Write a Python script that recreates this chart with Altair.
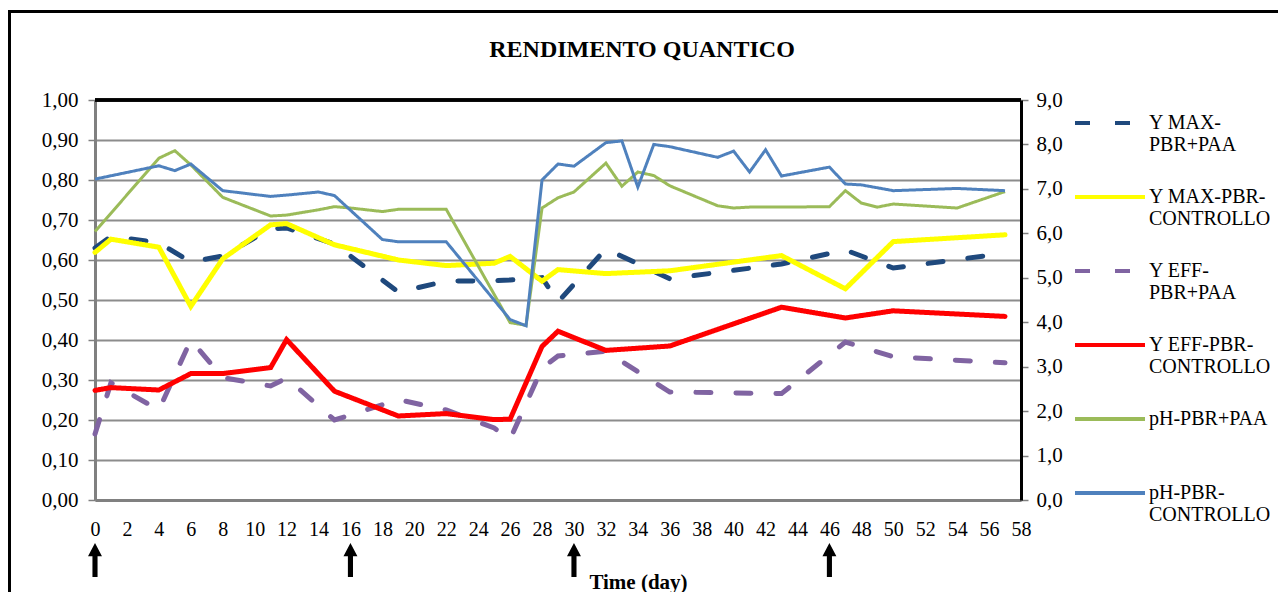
import altair as alt
import pandas as pd

SERIES = ["Y MAX-PBR+PAA", "Y MAX-PBR-CONTROLLO", "Y EFF-PBR+PAA",
          "Y EFF-PBR-CONTROLLO", "pH-PBR+PAA", "pH-PBR-CONTROLLO"]
COLORS = ["#1F497D", "#FFFF00", "#8064A2", "#FF0000", "#9BBB59", "#4F81BD"]
DASHES = [[15, 25], [1, 0], [15, 25], [1, 0], [1, 0], [1, 0]]

# Quantum yield series (left axis)
y_days = [0, 1, 4, 6, 8, 11, 12, 15, 19, 22, 25, 26, 28, 29, 32, 36, 43, 47, 50, 57]
ymax_paa = [0.630, 0.659, 0.643, 0.595, 0.610, 0.678, 0.680, 0.640, 0.520, 0.547,
            0.548, 0.550, 0.556, 0.495, 0.628, 0.553, 0.590, 0.625, 0.580, 0.617]
ymax_ctrl = [0.619, 0.652, 0.632, 0.484, 0.603, 0.688, 0.691, 0.638, 0.600, 0.586,
             0.592, 0.609, 0.547, 0.576, 0.566, 0.573, 0.611, 0.528, 0.646, 0.663]
yeff_paa = [0.165, 0.293, 0.225, 0.400, 0.306, 0.285, 0.305, 0.200, 0.251, 0.225,
            0.180, 0.152, 0.330, 0.360, 0.372, 0.270, 0.266, 0.395, 0.358, 0.343]
yeff_ctrl = [0.274, 0.281, 0.275, 0.316, 0.316, 0.331, 0.401, 0.272, 0.210, 0.216,
             0.201, 0.202, 0.384, 0.422, 0.374, 0.385, 0.482, 0.455, 0.473, 0.459]

# pH series (right axis)
ph_paa_days = [0, 4, 5, 6, 8, 11, 12, 14, 15, 16, 18, 19, 22, 26, 27, 28, 29, 30, 32, 33,
               34, 35, 36, 39, 40, 41, 43, 46, 47, 48, 49, 50, 54, 57]
ph_paa = [6.04, 7.69, 7.86, 7.54, 6.81, 6.39, 6.41, 6.53, 6.60, 6.57, 6.49, 6.54, 6.54,
          3.99, 3.93, 6.57, 6.80, 6.93, 7.58, 7.06, 7.38, 7.30, 7.07, 6.62, 6.57, 6.59,
          6.59, 6.60, 6.96, 6.68, 6.59, 6.66, 6.57, 6.94]
ph_ctrl_days = [0, 4, 5, 6, 8, 11, 12, 14, 15, 18, 19, 22, 26, 27, 28, 29, 30, 32, 33, 34,
                35, 36, 39, 40, 41, 42, 43, 46, 47, 48, 50, 54, 57]
ph_ctrl = [7.22, 7.52, 7.41, 7.56, 6.96, 6.83, 6.86, 6.93, 6.85, 5.86, 5.81, 5.81, 4.06,
           3.92, 7.20, 7.56, 7.51, 8.04, 8.08, 7.04, 8.00, 7.95, 7.71, 7.85, 7.38, 7.88,
           7.29, 7.49, 7.11, 7.09, 6.96, 7.01, 6.96]

arrow_days = [0, 16, 30, 46]
x_ticks = list(range(0, 59, 2))
left_ticks = [i / 10 for i in range(11)]
right_ticks = list(range(10))

FONT = "Liberation Serif"

rows = []
for name, vals in zip(SERIES[:4], [ymax_paa, ymax_ctrl, yeff_paa, yeff_ctrl]):
    for d, v in zip(y_days, vals):
        rows.append({"day": d, "value": v, "series": name})
ydf = pd.DataFrame(rows)

rows = []
for name, days, vals in [(SERIES[4], ph_paa_days, ph_paa), (SERIES[5], ph_ctrl_days, ph_ctrl)]:
    for d, v in zip(days, vals):
        rows.append({"day": d, "value": v, "series": name})
phdf = pd.DataFrame(rows)

arrow_df = pd.DataFrame({"day": arrow_days})

label_expr = (
    "datum.label == 'pH-PBR+PAA' ? datum.label : "
    "(indexof(datum.label, 'CONTROLLO') > 0 ? "
    "[replace(datum.label, 'CONTROLLO', ''), 'CONTROLLO'] : "
    "[slice(datum.label, 0, indexof(datum.label, '-') + 1), "
    "slice(datum.label, indexof(datum.label, '-') + 1)])"
)

legend = alt.Legend(
    orient="none", legendX=978, legendY=-14, title=None,
    symbolType="stroke", symbolSize=4900, symbolStrokeWidth=4,
    labelFont=FONT, labelFontSize=20, labelColor="black", labelLimit=400,
    labelExpr=label_expr, labelBaseline="middle", labelOffset=2,
    rowPadding=5, gridAlign="all", padding=0, direction="vertical", columns=1,
)

x_axis = alt.Axis(
    values=x_ticks, title="Time (day)", grid=False, ticks=False, tickSize=0,
    labelFont=FONT, labelFontSize=20, labelColor="black", labelPadding=19,
    labelFlush=False, labelOverlap=False, labelBound=False, labelSeparation=0,
    titleFont=FONT, titleFontSize=21, titleFontWeight="bold", titleColor="black",
    titleX=543, titleY=88, titleAnchor="start", titleAlign="center",
    titleBaseline="alphabetic",
    domainColor="#808080", domainWidth=3,
)
x_scale = alt.Scale(domain=[0, 58], nice=False, zero=False)
x_enc = alt.X("day:Q", scale=x_scale, axis=x_axis)

color_enc = alt.Color("series:N", scale=alt.Scale(domain=SERIES, range=COLORS), legend=legend)
dash_enc = alt.StrokeDash("series:N", scale=alt.Scale(domain=SERIES, range=DASHES), legend=legend)

y_layer = alt.Chart(ydf).mark_line(strokeWidth=5, strokeCap="round").encode(
    x=x_enc,
    y=alt.Y(
        "value:Q",
        scale=alt.Scale(domain=[0, 1], nice=False),
        axis=alt.Axis(
            orient="left", values=left_ticks, title=None, grid=True,
            gridColor="#8c8c8c", gridWidth=2,
            labelExpr="replace(format(datum.value, '.2f'), '.', ',')",
            labelFont=FONT, labelFontSize=21, labelColor="black", labelPadding=10,
            tickSize=7, tickColor="#808080", tickWidth=1.5,
            domainColor="#808080", domainWidth=3,
        ),
    ),
    color=color_enc,
    strokeDash=dash_enc,
)

ph_layer = alt.Chart(phdf).mark_line(strokeWidth=3).encode(
    x=x_enc,
    y=alt.Y(
        "value:Q",
        scale=alt.Scale(domain=[0, 9], nice=False),
        axis=alt.Axis(
            orient="right", values=right_ticks, title=None, grid=False,
            labelExpr="replace(format(datum.value, '.1f'), '.', ',')",
            labelFont=FONT, labelFontSize=21, labelColor="black", labelPadding=8,
            tickSize=7, tickColor="#808080", tickWidth=1.5,
            domainColor="black", domainWidth=3,
        ),
    ),
    color=color_enc,
    strokeDash=dash_enc,
)

arrow_path = "M0,-1 L0.41,-0.22 L0.15,-0.22 L0.15,1 L-0.15,1 L-0.15,-0.22 L-0.41,-0.22 Z"
arrows = alt.Chart(arrow_df).mark_point(
    shape=arrow_path, filled=True, size=1156, color="black", opacity=1, strokeWidth=0
).encode(
    x=x_enc,
    y=alt.value(460),
)

frame_left = alt.Chart(arrow_df).mark_rule(color="black", strokeWidth=3).encode(
    x=alt.value(-85.5), y=alt.value(-88.5), y2=alt.value(500)
)
frame_top = alt.Chart(arrow_df).mark_rule(color="black", strokeWidth=3).encode(
    x=alt.value(-87), x2=alt.value(1183), y=alt.value(-88.5)
)
plot_top = alt.Chart(arrow_df).mark_rule(color="black", strokeWidth=3).encode(
    x=alt.value(0), x2=alt.value(926), y=alt.value(0)
)

chart = alt.layer(y_layer, ph_layer, arrows, frame_left, frame_top, plot_top).resolve_scale(
    y="independent"
).properties(
    width=926, height=400,
    padding={"left": 87, "top": 92, "right": 257, "bottom": 92},
    autosize=alt.AutoSizeParams(type="none"),
    title=alt.TitleParams(
        "RENDIMENTO QUANTICO", font=FONT, fontSize=24, fontWeight="bold", color="black",
        anchor="middle", frame="group", dx=84, offset=-71, baseline="alphabetic",
    ),
).configure_view(stroke="black", strokeWidth=3).configure(background="white")

chart.save("out.html", embed_options={"renderer": "svg", "actions": False})
